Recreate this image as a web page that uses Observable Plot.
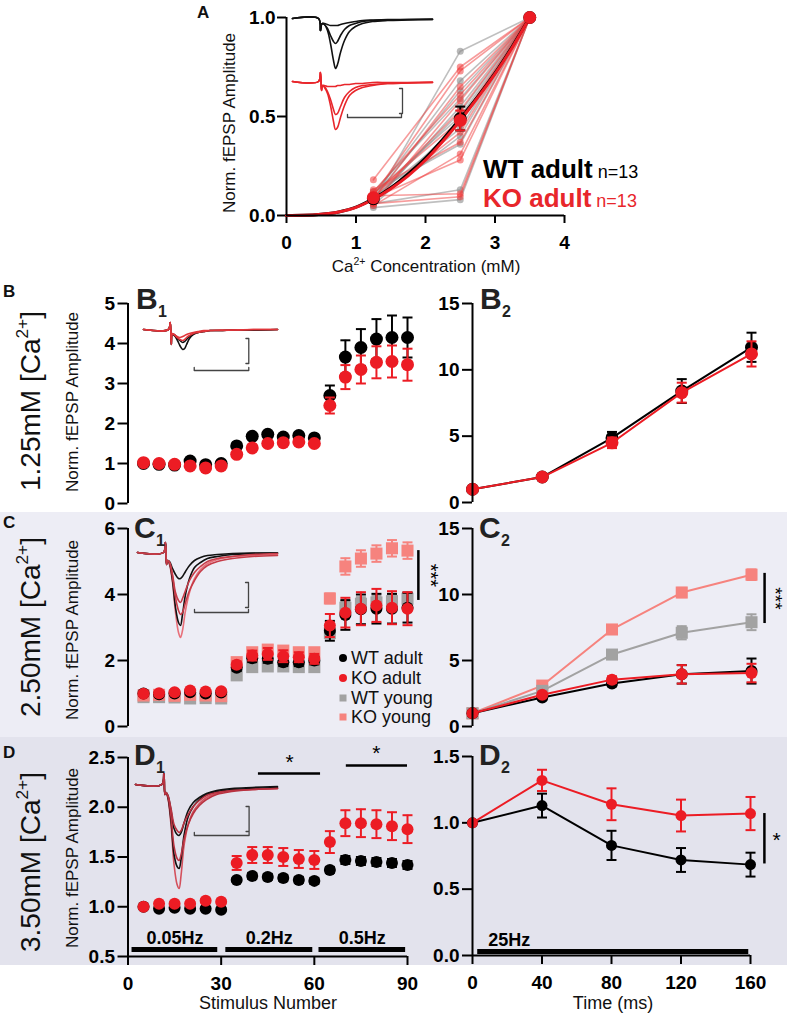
<!DOCTYPE html>
<html><head><meta charset="utf-8">
<script src="https://cdn.jsdelivr.net/npm/d3@7"></script>
<script src="https://cdn.jsdelivr.net/npm/@observablehq/plot@0.6"></script>
<style>
body{margin:0;background:#fff;}
#fig{position:relative;width:787px;height:1017px;overflow:hidden;font-family:"Liberation Sans",Arial,sans-serif;}
#fig svg{position:absolute;max-width:none;}
#fig [aria-label$="axis tick"] path,#fig [aria-label="x-axis"] line,#fig [aria-label="y-axis"] line{stroke-width:2px;}
#fig [aria-label$="tick label"],#fig [aria-label="x-axis"] text,#fig [aria-label="y-axis"] text{font-weight:700;font-size:19px;font-family:"Liberation Sans",Arial,sans-serif;}
</style></head><body><div id="fig"></div><script>
// ---------------- DATA ----------------
// Panel A
const caConc = [1.25, 2.5, 3.5];
const aWTindividual = [
  [0.07,0.83,1],[0.10,0.68,1],[0.09,0.63,1],[0.12,0.59,1],[0.06,0.55,1],[0.08,0.52,1],[0.11,0.50,1],
  [0.05,0.47,1],[0.09,0.44,1],[0.07,0.40,1],[0.12,0.36,1],[0.06,0.13,1],[0.04,0.08,1]];
const aKOindividual = [
  [0.18,0.75,1],[0.10,0.73,1],[0.08,0.65,1],[0.12,0.61,1],[0.06,0.58,1],[0.09,0.53,1],[0.11,0.48,1],
  [0.07,0.42,1],[0.13,0.37,1],[0.05,0.31,1],[0.09,0.28,1],[0.10,0.11,1],[0.06,0.095,1]];
const aWTmean = [0.085, 0.49, 1.0], aWTerr = [0.012, 0.06, 0];
const aKOmean = [0.09, 0.48, 1.0],  aKOerr = [0.012, 0.05, 0];
const fitConc = [0,0.25,0.5,0.75,1.0,1.25,1.5,1.75,2.0,2.25,2.5,2.75,3.0,3.25,3.5];
const fitWT = [0,0.001,0.006,0.018,0.042,0.085,0.14,0.21,0.29,0.385,0.49,0.60,0.72,0.855,1.0];
const fitKO = [0,0.001,0.006,0.018,0.041,0.082,0.135,0.20,0.28,0.375,0.48,0.595,0.715,0.85,1.0];

// Stimulus-number panels
const stim = [5,10,15,20,25,30,35,40,45,50,55,60,65,70,75,80,85,90];
const b1WT    = [1.00,0.98,0.96,1.06,0.97,1.00,1.44,1.68,1.73,1.66,1.70,1.64,2.70,3.66,3.90,4.11,4.15,4.15];
const b1WTerr = [0.02,0.03,0.03,0.04,0.04,0.04,0.05,0.05,0.06,0.06,0.07,0.06,0.25,0.42,0.46,0.50,0.55,0.50];
const b1KO    = [1.02,1.00,0.98,0.94,0.89,0.94,1.23,1.39,1.50,1.52,1.54,1.50,2.45,3.16,3.35,3.53,3.55,3.47];
const b1KOerr = [0.02,0.03,0.03,0.04,0.04,0.04,0.05,0.05,0.06,0.06,0.07,0.06,0.20,0.30,0.35,0.40,0.40,0.40];

const c1WT     = [1.00,0.98,1.00,1.04,1.00,1.03,1.78,2.07,2.05,1.95,1.95,2.00,2.90,3.38,3.55,3.57,3.57,3.60];
const c1WTerr  = [0.03,0.04,0.04,0.05,0.05,0.05,0.10,0.12,0.12,0.12,0.12,0.12,0.30,0.45,0.45,0.45,0.45,0.45];
const c1KO     = [0.99,1.01,1.04,1.09,1.06,1.07,1.87,2.15,2.20,2.13,2.10,2.05,3.06,3.45,3.57,3.67,3.60,3.57];
const c1KOerr  = [0.03,0.04,0.04,0.05,0.05,0.05,0.10,0.15,0.18,0.18,0.15,0.15,0.35,0.45,0.50,0.50,0.50,0.50];
const c1WTy    = [0.89,0.89,0.88,0.85,0.86,0.85,1.55,1.80,1.82,1.82,1.80,1.80,2.83,3.60,3.72,3.76,3.80,3.87];
const c1WTyErr = [0.03,0.03,0.03,0.03,0.03,0.03,0.08,0.10,0.10,0.10,0.10,0.10,0.15,0.20,0.20,0.20,0.20,0.20];
const c1KOy    = [0.94,0.96,0.93,0.96,0.94,0.92,1.95,2.25,2.33,2.30,2.25,2.25,3.88,4.85,5.09,5.24,5.40,5.33];
const c1KOyErr = [0.03,0.03,0.03,0.03,0.03,0.03,0.10,0.12,0.12,0.12,0.12,0.12,0.15,0.25,0.25,0.25,0.25,0.25];

const d1WT    = [1.00,0.98,0.99,0.98,0.98,0.97,1.27,1.31,1.30,1.29,1.27,1.26,1.37,1.47,1.46,1.45,1.44,1.42];
const d1WTerr = [0.01,0.01,0.01,0.01,0.01,0.01,0.02,0.03,0.03,0.03,0.03,0.03,0.03,0.04,0.04,0.04,0.04,0.04];
const d1KO    = [1.00,1.03,1.03,1.03,1.06,1.05,1.44,1.52,1.52,1.50,1.48,1.47,1.65,1.84,1.84,1.83,1.81,1.78];
const d1KOerr = [0.01,0.02,0.02,0.02,0.02,0.02,0.07,0.08,0.08,0.09,0.09,0.09,0.11,0.13,0.14,0.14,0.14,0.14];

// Time panels
const timeMs = [0,40,80,120,160];
const b2WT = [1,1.92,4.87,8.40,11.70], b2WTerr = [0,0.10,0.45,0.90,1.10];
const b2KO = [1,1.92,4.50,8.28,11.20], b2KOerr = [0,0.10,0.40,0.75,0.95];
const c2WT = [1,2.20,3.25,3.95,4.20],  c2WTerr = [0,0.15,0.20,0.70,0.95];
const c2KO = [1,2.40,3.55,3.95,4.05],  c2KOerr = [0,0.15,0.25,0.70,0.70];
const c2WTy = [1,2.70,5.45,7.10,7.90], c2WTyErr = [0,0.15,0.30,0.50,0.60];
const c2KOy = [1,3.10,7.35,10.15,11.50], c2KOyErr = [0,0.20,0.30,0.35,0.40];
const d2WT = [1,1.13,0.83,0.72,0.685], d2WTerr = [0,0.09,0.11,0.09,0.09];
const d2KO = [1,1.32,1.14,1.055,1.07], d2KOerr = [0,0.08,0.12,0.12,0.125];

// Stimulus protocol bars
const freqLabels = ["0.05Hz","0.2Hz","0.5Hz"];
const freqStart = [1.3, 31.5, 61.5];
const freqEnd = [28.9, 59.5, 89.4];
const trainLabel = ["25Hz"];
const trainStart = [3], trainEnd = [159];

// Example traces (time samples, deflection downward)
const traceT = [0,26,28,29,30,32,35,38,41,43,45,48,52,57,63,70,80,95,115,140];
const trA = {
  wt: [[0,0,12,6,5,6,12,25,42,50,46,34,22,13,8,5,3,2,1.5,1],
       [0,0,12,6,5,6,10,17,23,25,23,17,11,7,5,3,2,1.5,1,1],
       [0,0,12,6,5,5,6,7,7,7,7,6,5,4,3,2,1.5,1,1,0.5]],
  ko: [[0,0,-9,9,4,6,12,24,40,48,46,36,24,14,9,6,4,2,1.5,1],
       [0,0,-9,9,4,5,10,18,28,33,32,25,16,10,6,4,3,2,1.5,1],
       [0,0,-9,9,4,4,5,5,5,5,4,4,3,3,2,2,1,1,1,0.5]]
};
const trB1 = {
  wt: [[0,0,-7,15,5,6,10,16,20,19,15,9,5,3,2,1,1,0.5,0.5,0],
       [0,0,-7,15,5,5,8,11,13,12,10,7,4,3,2,1,1,0.5,0.5,0]],
  ko: [[0,0,-7,15,5,5,7,8,7,6,5,4,3,2,1,1,0.5,0.5,0,0],
       [0,0,-7,13,4,5,8,10,11,10,8,6,4,3,2,1,1,0.5,0,0]]
};
const trC1 = {
  wt: [[0,0,-10,12,8,11,28,55,70,73,62,42,26,15,10,6,4,2,1,0.5],
       [0,0,-10,12,8,9,16,22,26,26,24,19,13,8,5,3,2,1,0.5,0.5]],
  ko: [[0,0,-10,12,8,12,30,60,80,85,78,58,40,26,17,11,7,4,3,2],
       [0,0,-10,12,8,10,24,45,58,62,60,50,38,28,19,13,9,6,4,3],
       [0,0,-10,12,8,10,22,40,48,50,46,38,28,20,14,9,6,4,2,1]]
};
const trD1 = {
  wt: [[0,0,-11,10,8,13,36,70,82,84,74,50,32,22,15,10,7,5,4,3],
       [0,0,-11,10,8,11,26,44,50,51,48,38,26,18,13,9,6,4,3,2]],
  ko: [[0,0,-11,10,8,14,40,80,100,104,90,60,40,27,19,13,9,6,5,4],
       [0,0,-11,10,8,12,32,62,74,76,70,54,40,29,21,15,10,7,5,4],
       [0,0,-11,10,8,11,24,40,46,48,46,38,30,22,16,11,8,6,5,4]]
};

const legendLabels = ["WT adult","KO adult","WT young","KO young"];

// ---------------- STYLE ----------------
const FONT = '"Liberation Sans", Arial, Helvetica, sans-serif';
const BLACK = "#000000", RED = "#ec1c24", PINK = "#f6837e", GREY = "#a2a2a2";
const capSymbol = {draw(ctx, size){ const w = Math.sqrt(size/Math.PI); ctx.moveTo(-w,0); ctx.lineTo(w,0); }};
const fig = document.getElementById("fig");
const fInt = d3.format("d"), f1 = d3.format(".1f");

function bg(top, h, color){
  const d = document.createElement("div");
  Object.assign(d.style,{position:"absolute",left:"0px",top:top+"px",width:"787px",height:h+"px",background:color});
  fig.append(d);
}
bg(512, 225, "#ededf5");
bg(737, 228, "#e3e3ed");

const rows = (xs, ys, es) => xs.map((x,i)=>({x, y: ys[i], e: es ? es[i] : 0}));

function series(data, color, {symbol="circle", r=6, line=false, lineWidth=2, cap=5}={}){
  const eb = data.filter(d=>d.e>0).map(d=>({x:d.x, lo:d.y-d.e, hi:d.y+d.e}));
  const caps = eb.flatMap(d=>[{x:d.x,y:d.lo},{x:d.x,y:d.hi}]);
  const m = [];
  if (line) m.push(Plot.line(data,{x:"x",y:"y",stroke:color,strokeWidth:lineWidth}));
  m.push(Plot.ruleX(eb,{x:"x",y1:"lo",y2:"hi",stroke:color,strokeWidth:2}));
  m.push(Plot.dot(caps,{x:"x",y:"y",r:cap,symbol:capSymbol,stroke:color,strokeWidth:2,fill:"none"}));
  m.push(Plot.dot(data,{x:"x",y:"y",r,symbol,fill:color,stroke:"none"}));
  return m;
}
function axisLines(xd, yd, showX=true){
  const m = [Plot.ruleX([{x:xd[0],y1:yd[0],y2:yd[1]}],{x:"x",y1:"y1",y2:"y2",stroke:"#000",strokeWidth:2})];
  if (showX) m.push(Plot.ruleY([{y:yd[0],x1:xd[0],x2:xd[1]}],{y:"y",x1:"x1",x2:"x2",stroke:"#000",strokeWidth:2}));
  return m;
}
function panel(o){
  const svg = Plot.plot({
    width:o.width, height:o.height,
    marginLeft:o.px[0]-o.left, marginRight:o.left+o.width-o.px[1],
    marginTop:o.py[1]-o.top, marginBottom:o.top+o.height-o.py[0],
    x:Object.assign({label:null}, o.x), y:Object.assign({label:null}, o.y),
    style:{fontFamily:FONT,fontSize:"18px",fontWeight:"bold",color:"#000",background:"transparent",overflow:"visible"},
    marks:o.marks
  });
  svg.style.left = o.left+"px"; svg.style.top = o.top+"px";
  fig.append(svg);
  return svg;
}
function inset(o){
  const tr = [];
  let k = 0;
  for (const s of o.sweeps){ s.values.forEach((v,i)=>tr.push({k, t:traceT[i], v:v+(s.base||0), c:s.color})); k++; }
  const b = o.bar;
  const vBar = [{t:b.vx-3,v:b.vy0},{t:b.vx,v:b.vy0},{t:b.vx,v:b.vy1},{t:b.vx-3,v:b.vy1}];
  const hBar = [{t:b.hx0,v:b.hy-3},{t:b.hx0,v:b.hy},{t:b.hx1,v:b.hy},{t:b.hx1,v:b.hy-3}];
  const svg = Plot.plot({
    width:o.width, height:o.height, margin:0,
    x:{domain:[0,140], axis:null},
    y:{domain:o.yDomain, range:[0,o.height], axis:null},
    color:{type:"identity"},
    style:{background:"transparent",overflow:"visible"},
    marks:[
      Plot.line(tr,{x:"t",y:"v",z:"k",stroke:"c",strokeWidth:1.6,curve:"catmull-rom"}),
      Plot.line(vBar,{x:"t",y:"v",stroke:"#444",strokeWidth:1.3}),
      Plot.line(hBar,{x:"t",y:"v",stroke:"#444",strokeWidth:1.3})
    ]
  });
  svg.style.left = o.left+"px"; svg.style.top = o.top+"px";
  fig.append(svg);
}

// ---------------- PANEL A ----------------
{
  const wtInd = aWTindividual.flatMap((v,k)=>caConc.map((c,i)=>({id:k,x:c,y:v[i]})));
  const koInd = aKOindividual.flatMap((v,k)=>caConc.map((c,i)=>({id:k,x:c,y:v[i]})));
  const xd=[0,4], yd=[0,1];
  panel({left:190, top:0, width:420, height:260, px:[286,564], py:[215,17],
    x:{domain:xd, ticks:[0,1,2,3,4], tickFormat:fInt, tickSize:8, tickPadding:12},
    y:{domain:yd, ticks:[0,0.5,1], tickFormat:f1, tickSize:9, tickPadding:2},
    marks:[
      Plot.line(wtInd,{x:"x",y:"y",z:"id",stroke:"#8a8a8a",strokeOpacity:0.55,strokeWidth:1.6}),
      Plot.dot(wtInd,{x:"x",y:"y",r:3.5,fill:"#8a8a8a",fillOpacity:0.6}),
      Plot.line(koInd,{x:"x",y:"y",z:"id",stroke:"#f03a3a",strokeOpacity:0.5,strokeWidth:1.6}),
      Plot.dot(koInd,{x:"x",y:"y",r:3.5,fill:"#f03a3a",fillOpacity:0.55}),
      Plot.line(rows(fitConc,fitWT),{x:"x",y:"y",stroke:BLACK,strokeWidth:3,curve:"monotone-x"}),
      Plot.line(rows(fitConc,fitKO),{x:"x",y:"y",stroke:RED,strokeWidth:3,curve:"monotone-x"}),
      ...series(rows(caConc,aWTmean,aWTerr),BLACK,{r:6.5}),
      ...series(rows(caConc,aKOmean,aKOerr),RED,{r:6.5}),
      ...axisLines(xd,yd)
    ]});
  inset({left:292, top:3, width:140, height:135, yDomain:[-15,120],
    sweeps:[...trA.wt.map(v=>({values:v,color:"#111",base:0})), ...trA.ko.map(v=>({values:v,color:"#e8262b",base:63}))],
    bar:{vx:110, vy0:70, vy1:95, hx0:55, hx1:109, hy:99}});
}

// ---------------- ROW B ----------------
{
  const xd=[0,90], yd=[0,5];
  panel({left:80, top:280, width:360, height:232, px:[127.5,407], py:[503,303],
    x:{domain:xd, axis:null},
    y:{domain:yd, ticks:[0,1,2,3,4,5], tickFormat:fInt, tickSize:10, tickPadding:3},
    marks:[
      ...series(rows(stim,b1WT,b1WTerr),BLACK,{r:6.5}),
      ...series(rows(stim,b1KO,b1KOerr),RED,{r:6.5}),
      ...axisLines(xd,yd,false)
    ]});
  inset({left:143, top:317, width:134, height:57, yDomain:[-12,45],
    sweeps:[...trB1.wt.map(v=>({values:v,color:"#111"})), ...trB1.ko.map(v=>({values:v,color:"#e0353a"}))],
    bar:{vx:110, vy0:9, vy1:34, hx0:53, hx1:110, hy:41}});
  const xd2=[0,160], yd2=[0,15];
  panel({left:420, top:280, width:367, height:232, px:[472,751], py:[502,303],
    x:{domain:xd2, axis:null},
    y:{domain:yd2, ticks:[0,5,10,15], tickFormat:fInt, tickSize:10, tickPadding:3},
    marks:[
      ...series(rows(timeMs,b2WT,b2WTerr),BLACK,{r:6.5,line:true}),
      ...series(rows(timeMs,b2KO,b2KOerr),RED,{r:6.5,line:true}),
      ...axisLines(xd2,yd2,false)
    ]});
}

// ---------------- ROW C ----------------
{
  const xd=[0,90], yd=[0,6];
  const sig = [{x:93.5, y1:3.82, y2:5.33, tx:97.4, ty:4.58, label:"***"}];
  panel({left:80, top:512, width:360, height:222, px:[127.5,407], py:[726,528],
    x:{domain:xd, axis:null},
    y:{domain:yd, ticks:[0,2,4,6], tickFormat:fInt, tickSize:10, tickPadding:3},
    marks:[
      ...series(rows(stim,c1WTy,c1WTyErr),GREY,{r:6.8,symbol:"square"}),
      ...series(rows(stim,c1KOy,c1KOyErr),PINK,{r:6.8,symbol:"square"}),
      ...series(rows(stim,c1WT,c1WTerr),BLACK,{r:6}),
      ...series(rows(stim,c1KO,c1KOerr),RED,{r:6}),
      Plot.ruleX(sig,{x:"x",y1:"y1",y2:"y2",stroke:"#000",strokeWidth:2.5}),
      Plot.text(sig,{x:"tx",y:"ty",text:"label",rotate:90,fontSize:20,fontWeight:"normal"}),
      ...axisLines(xd,yd,false)
    ]});
  inset({left:137, top:540, width:140, height:102, yDomain:[-12,90],
    sweeps:[...trC1.ko.slice(0,1).map(v=>({values:v,color:"#e8707a"})),
            ...trC1.wt.map(v=>({values:v,color:"#111"})),
            ...trC1.ko.slice(1).map(v=>({values:v,color:"#c63c48"}))],
    bar:{vx:111, vy0:30, vy1:55, hx0:57, hx1:111, hy:60}});
  const xd2=[0,160], yd2=[0,15];
  const sig2 = [{x:167.5, y1:7.8, y2:11.6, tx:173.8, ty:9.7, label:"***"}];
  panel({left:420, top:512, width:367, height:222, px:[472,751], py:[726,528],
    x:{domain:xd2, axis:null},
    y:{domain:yd2, ticks:[0,5,10,15], tickFormat:fInt, tickSize:10, tickPadding:3},
    marks:[
      ...series(rows(timeMs,c2KOy,c2KOyErr),PINK,{r:6.8,symbol:"square",line:true}),
      ...series(rows(timeMs,c2WTy,c2WTyErr),GREY,{r:6.8,symbol:"square",line:true}),
      ...series(rows(timeMs,c2WT,c2WTerr),BLACK,{r:6,line:true}),
      ...series(rows(timeMs,c2KO,c2KOerr),RED,{r:6,line:true}),
      Plot.ruleX(sig2,{x:"x",y1:"y1",y2:"y2",stroke:"#000",strokeWidth:2.5}),
      Plot.text(sig2,{x:"tx",y:"ty",text:"label",rotate:90,fontSize:19,fontWeight:"normal"}),
      ...axisLines(xd2,yd2,false)
    ]});
}

// ---------------- ROW D ----------------
{
  const xd=[0,90], yd=[0.5,2.5];
  const bars = freqLabels.map((l,i)=>({label:l, x1:freqStart[i], x2:freqEnd[i], xm:(freqStart[i]+freqEnd[i])/2, y:0.57}));
  const sig = [{x1:42,x2:62,y:2.34,tx:52,ty:2.45,label:"*"},{x1:70.3,x2:90,y:2.42,tx:80,ty:2.54,label:"*"}];
  panel({left:80, top:737, width:360, height:280, px:[127.5,407], py:[956,757],
    x:{domain:xd, ticks:[0,30,60,90], tickFormat:fInt, tickSize:9, tickPadding:11},
    y:{domain:yd, ticks:[0.5,1,1.5,2,2.5], tickFormat:f1, tickSize:10, tickPadding:3},
    marks:[
      Plot.ruleY(bars,{y:"y",x1:"x1",x2:"x2",stroke:"#000",strokeWidth:5}),
      Plot.text(bars,{x:"xm",y:"y",text:"label",dy:-11,fontSize:18,fontWeight:"bold"}),
      ...series(rows(stim,d1WT,d1WTerr),BLACK,{r:6}),
      ...series(rows(stim,d1KO,d1KOerr),RED,{r:6}),
      Plot.ruleY(sig,{y:"y",x1:"x1",x2:"x2",stroke:"#000",strokeWidth:2.5}),
      Plot.text(sig,{x:"tx",y:"ty",text:"label",fontSize:21,fontWeight:"normal"}),
      ...axisLines(xd,yd)
    ]});
  inset({left:135, top:771, width:142, height:123, yDomain:[-13,110],
    sweeps:[...trD1.ko.slice(0,1).map(v=>({values:v,color:"#d4505c"})),
            ...trD1.wt.map(v=>({values:v,color:"#111"})),
            ...trD1.ko.slice(1).map(v=>({values:v,color:"#b83240"}))],
    bar:{vx:112, vy0:22, vy1:47, hx0:58, hx1:112, hy:51}});
  const xd2=[0,160], yd2=[0,1.5];
  const train = trainLabel.map((l,i)=>({label:l, x1:trainStart[i], x2:trainEnd[i], y:0.03, tx:9}));
  const sig2 = [{x:168, y1:0.69, y2:1.07, tx:175, ty:0.87, label:"*"}];
  panel({left:420, top:737, width:367, height:280, px:[472,750], py:[955,756],
    x:{domain:xd2, ticks:[0,40,80,120,160], tickFormat:fInt, tickSize:9, tickPadding:11},
    y:{domain:yd2, ticks:[0,0.5,1,1.5], tickFormat:f1, tickSize:10, tickPadding:3},
    marks:[
      Plot.ruleY(train,{y:"y",x1:"x1",x2:"x2",stroke:"#000",strokeWidth:5}),
      Plot.text(train,{x:"tx",y:"y",text:"label",dy:-11,textAnchor:"start",fontSize:18,fontWeight:"bold"}),
      ...series(rows(timeMs,d2WT,d2WTerr),BLACK,{r:5.5,line:true}),
      ...series(rows(timeMs,d2KO,d2KOerr),RED,{r:5.5,line:true}),
      Plot.ruleX(sig2,{x:"x",y1:"y1",y2:"y2",stroke:"#000",strokeWidth:2.5}),
      Plot.text(sig2,{x:"tx",y:"ty",text:"label",fontSize:21,fontWeight:"normal"}),
      ...axisLines(xd2,yd2)
    ]});
}

// ---------------- TEXT OVERLAY ----------------
const ov = d3.select(fig).append("svg").attr("width",787).attr("height",1017)
  .style("left","0px").style("top","0px").style("pointer-events","none")
  .attr("font-family",FONT).style("white-space","pre");
function txt(x, y, parts, {size=18, weight="normal", anchor="start", rotate=0, fill="#111", center=false}={}){
  const g = ov.append("text").attr("font-size",size).attr("font-weight",weight).attr("text-anchor",anchor).attr("fill",fill)
    .attr("transform",`translate(${x},${y})`+(rotate?` rotate(${rotate})`:""))
    .attr("y", center ? 0.35*size : 0);
  if (typeof parts === "string") parts = [parts];
  let shift = 0;
  for (const p of parts){
    if (typeof p === "string"){ g.append("tspan").attr("dy",-shift).text(p); shift = 0; }
    else if (p.sup){ const s = 0.42*size; g.append("tspan").attr("dy",-s).attr("font-size",size*0.62).text(p.sup); shift = -s; }
    else if (p.span){ g.append("tspan").attr("dy",-shift).attr("font-size",p.size).attr("font-weight",p.weight||null).text(p.span); shift=0; }
  }
  return g;
}
// Panel A texts
txt(197, 18, "A", {size:17, weight:"bold"});
txt(229, 123, "Norm.  fEPSP Amplitude", {size:17, rotate:-90, anchor:"middle", center:true});
txt(426, 272, ["Ca",{sup:"2+"}," Concentration (mM)"], {size:17, anchor:"middle"});
txt(483, 178, [{span:"WT adult", size:26, weight:"bold"}, {span:" n=13", size:18}], {fill:"#000"});
txt(483, 207, [{span:"KO adult", size:26, weight:"bold"}, {span:" n=13", size:18}], {fill:"#e8262b"});
// Row letters and labels
txt(3, 297, "B", {size:17, weight:"bold"});
txt(3, 528, "C", {size:17, weight:"bold"});
txt(3, 758, "D", {size:17, weight:"bold"});
txt(30, 401, ["1.25mM [Ca",{sup:"2+"},"]"], {size:28, rotate:-90, anchor:"middle", center:true});
txt(30, 627, ["2.50mM [Ca",{sup:"2+"},"]"], {size:28, rotate:-90, anchor:"middle", center:true});
txt(30, 862, ["3.50mM [Ca",{sup:"2+"},"]"], {size:28, rotate:-90, anchor:"middle", center:true});
txt(72, 402, "Norm.  fEPSP Amplitude", {size:17, rotate:-90, anchor:"middle", center:true});
txt(72, 630, "Norm.  fEPSP Amplitude", {size:17, rotate:-90, anchor:"middle", center:true});
txt(72, 858, "Norm.  fEPSP Amplitude", {size:17, rotate:-90, anchor:"middle", center:true});
// Sub-panel labels
const subLab = [["B","1",136,309],["B","2",480,309],["C","1",134,538],["C","2",479,538],["D","1",134,765],["D","2",479,765]];
for (const [L,n,x,y] of subLab){
  txt(x, y, L, {size:30, weight:"bold", fill:"#222"});
  txt(x+22, y+8, n, {size:16, weight:"bold", fill:"#222"});
}
// x-axis titles
txt(268, 1009, "Stimulus Number", {size:18, anchor:"middle"});
txt(613, 1009, "Time (ms)", {size:18, anchor:"middle"});
// C1 legend
const legColors = [BLACK, RED, GREY, PINK];
const legShapes = ["circle","circle","square","square"];
const legY = [658, 678, 698, 717];
legendLabels.forEach((l,i)=>{
  if (legShapes[i]==="circle") ov.append("circle").attr("cx",343).attr("cy",legY[i]).attr("r",4).attr("fill",legColors[i]);
  else ov.append("rect").attr("x",339.5).attr("y",legY[i]-3.5).attr("width",7).attr("height",7).attr("fill",legColors[i]);
  txt(351, legY[i], l, {size:18, center:true});
});
</script></body></html>
